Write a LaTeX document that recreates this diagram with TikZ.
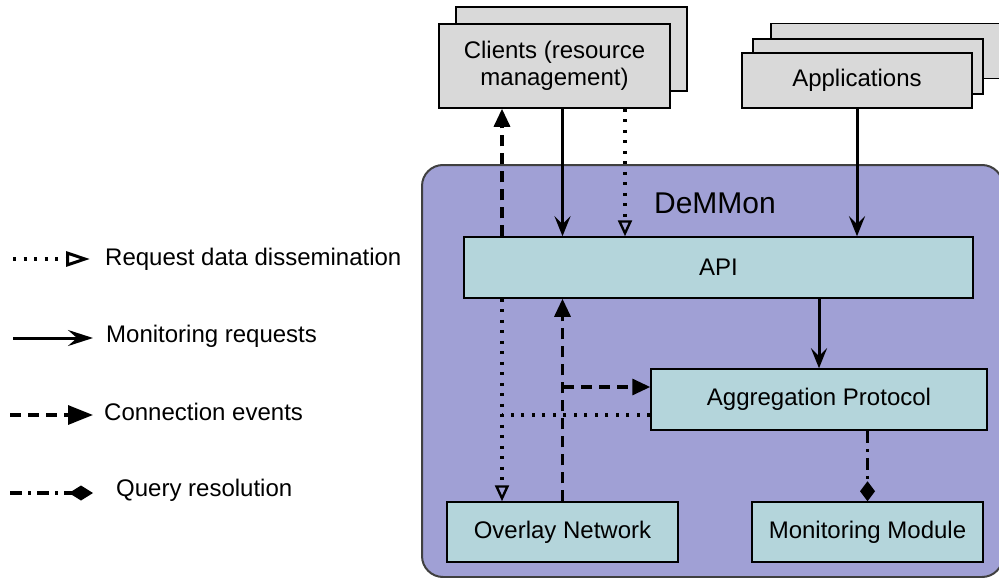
\documentclass[tikz,border=0pt]{standalone}
\usepackage{fontspec}
\setmainfont{Liberation Sans}
\usetikzlibrary{arrows.meta,calc}

\definecolor{demmonfill}{RGB}{160,160,213}
\definecolor{modfill}{RGB}{180,213,219}
\definecolor{extfill}{RGB}{217,217,217}
\definecolor{rimgray}{RGB}{64,64,64}

\tikzset{
  box/.style={draw=black,line width=1.5pt,inner sep=0pt,align=center,
    font=\fontsize{24}{27}\selectfont},
  extbox/.style={box,fill=extfill},
  modbox/.style={box,fill=modfill},
  legtext/.style={anchor=west,inner sep=0pt,font=\fontsize{24}{27}\selectfont},
  monplain/.style={line width=3pt},
  monline/.style={monplain,-{Stealth[length=20pt,width=16pt,inset=8pt]}},
  reqplain/.style={line width=3.2pt,dash pattern=on 3pt off 7.5pt},
  reqline/.style={reqplain,-{Triangle[open,line width=2.4pt,length=16pt,width=14pt]}},
  evtplain/.style={line width=3.2pt,dash pattern=on 11pt off 7pt},
  evtline/.style={evtplain,-{Triangle[length=18pt,width=16pt]}},
  qryplain/.style={line width=3.2pt,dash pattern=on 12pt off 6pt on 3pt off 6pt},
  qryline/.style={qryplain,-{Diamond[length=20pt,width=15pt]}},
  % bigger tips in the legend
  legreq/.style={reqplain,-{Triangle[open,line width=3pt,length=24pt,width=15pt]}},
  legmon/.style={monplain,-{Stealth[length=25pt,width=16pt,inset=9pt]}},
  legevt/.style={evtplain,-{Triangle[length=25pt,width=19pt]}},
  legqry/.style={qryplain,-{Diamond[length=24pt,width=15pt]}}
}

\begin{document}
\begin{tikzpicture}[x=1pt,y=-1pt]
\clip (0,0) rectangle (999,578);

% DeMMon container
\draw[fill=demmonfill,draw=rimgray,line width=2pt,rounded corners=21pt]
  (422,165) rectangle (1003,577);
\node[font=\fontsize{30}{34}\selectfont] (demmon) at (715,203) {DeMMon};

% clients, stacked
\node[extbox,minimum width=231pt,minimum height=84pt] (clientsBack) at (571.5,49) {};
\node[extbox,minimum width=231pt,minimum height=84pt] (clients) at (554.5,66)
  {Clients (resource\\management)};

% applications, stacked
\node[extbox,minimum width=230pt,minimum height=55pt] (appsBack) at (886,51) {};
\node[extbox,minimum width=230pt,minimum height=55pt] (appsMid) at (868,66.5) {};
\node[extbox,minimum width=230pt,minimum height=55pt] (apps) at (857,80.5) {Applications};

% modules
\node[modbox,minimum width=509pt,minimum height=61pt] (api) at (718.5,267.5) {API};
\node[modbox,minimum width=336pt,minimum height=61pt] (aggr) at (819,399.5) {Aggregation Protocol};
\node[modbox,minimum width=231pt,minimum height=60pt] (overlay) at (562.5,532) {Overlay Network};
\node[modbox,minimum width=231pt,minimum height=60pt] (monitor) at (867.5,532) {Monitoring Module};

% columns and joins
\coordinate (colA) at (502,0);
\coordinate (colC) at (625,0);
\coordinate (reqJoin) at (502,415);
\coordinate (evtJoin) at (563,387);

% connectors
\draw[evtline] (api.north -| colA) -- (clients.south -| colA);
\draw[monline] (clients.south -| overlay.north) -- (api.north -| overlay.north);
\draw[reqline] (clients.south -| colC) -- (api.north -| colC);
\draw[monline] (apps.south) -- (api.north -| apps.south);
\draw[monline] (api.south -| aggr.north) -- (aggr.north);
\draw[reqline] (api.south -| colA) -- (overlay.north -| colA);
\draw[reqplain] ([yshift=-15.5pt]aggr.west) -- (reqJoin);
\draw[evtline] (overlay.north) -- (overlay.north |- api.south);
\draw[evtline] (evtJoin) -- (evtJoin -| aggr.west);
\draw[qryline] (aggr.south -| monitor.north) -- (monitor.north);

% legend
\node[legtext] (legReq) at (105,259) {Request data dissemination};
\node[legtext] (legMon) at (106,336) {Monitoring requests};
\node[legtext] (legEvt) at (104,412) {Connection events};
\node[legtext] (legQry) at (116,490) {Query resolution};
\coordinate (lineReq) at (13,259);
\coordinate (lineMon) at (13,338);
\coordinate (lineEvt) at (10,415);
\coordinate (lineQry) at (10,493);
\draw[legreq] (lineReq) -- (lineReq -| 90,0);
\draw[legmon] (lineMon) -- (lineMon -| 93,0);
\draw[legevt] (lineEvt) -- (lineEvt -| 93,0);
\draw[legqry] (lineQry) -- (lineQry -| 93,0);
\end{tikzpicture}
\end{document}
